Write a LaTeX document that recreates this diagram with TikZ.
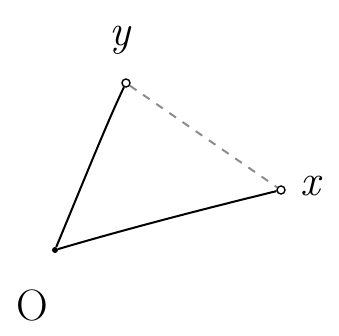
\documentclass[tikz,border=0pt]{standalone}
\usepackage{fontspec}
\setmainfont{Latin Modern Roman}
\begin{document}
\begin{tikzpicture}[x=1pt,y=-1pt,
  pt/.style={circle,draw,line width=1.4pt,inner sep=0pt,minimum size=8pt,fill=white},
  dotpt/.style={circle,fill,inner sep=0pt,minimum size=6pt},
  lbl/.style={inner sep=0pt,font=\fontsize{44}{44}\selectfont},
  edge/.style={line width=2pt},
  dashedge/.style={line width=2pt,dash pattern=on 8pt off 8pt,black!45}]
\useasboundingbox (0,0) rectangle (339,336);
\node[dotpt] (o) at (55,250) {};
\node[pt] (y) at (126,83) {};
\node[pt] (x) at (281,190) {};
\node[lbl] (ly) at (120,40) {\itshape y};
\node[lbl] (lx) at (310,186) {\itshape x};
\node[lbl] (lo) at (32,305) {O};
\draw[edge] (o) .. controls (80,190) and (108,120) .. (y);
\draw[edge] (o) .. controls (140,225) and (220,205) .. (x);
\draw[dashedge] (y) -- (x);
\end{tikzpicture}
\end{document}
